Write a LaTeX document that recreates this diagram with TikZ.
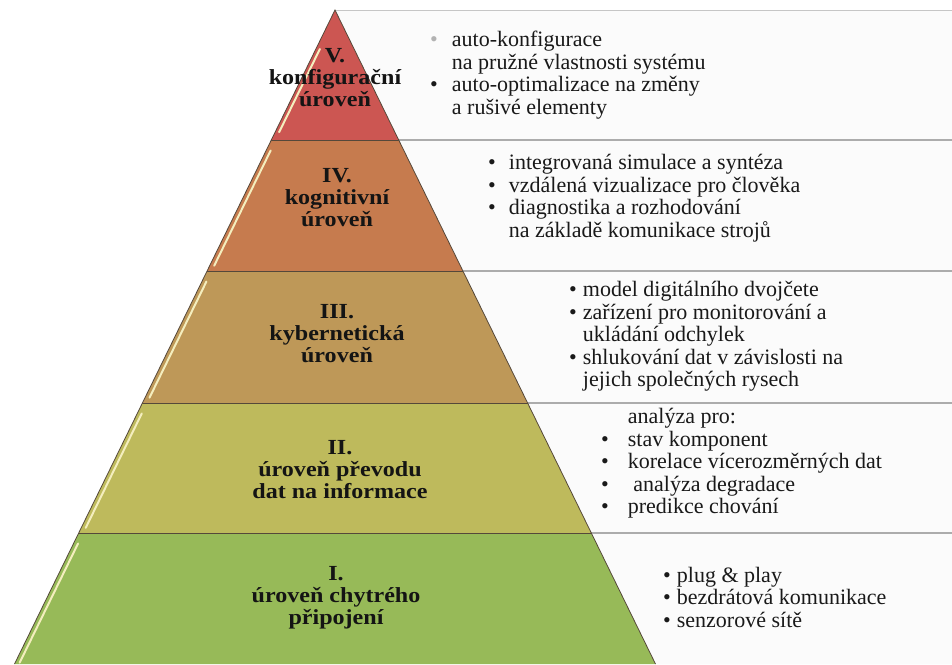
\documentclass[tikz,border=0pt]{standalone}
\usepackage{fontspec}
\setmainfont{Liberation Serif}
\newfontfamily\lblfont[FakeStretch=1.12]{Liberation Serif}
\usepackage{tikz}
\usetikzlibrary{positioning, calc}

\definecolor{lvlV}{RGB}{204,86,82}
\definecolor{lvlIV}{RGB}{198,123,78}
\definecolor{lvlIII}{RGB}{190,152,88}
\definecolor{lvlII}{RGB}{190,186,92}
\definecolor{lvlI}{RGB}{151,186,88}
\definecolor{rim}{RGB}{85,72,58}
\definecolor{glintc}{RGB}{244,238,190}

\tikzset{
  lbl/.style={align=center, text=black!92, inner sep=0pt,
    font=\lblfont\bfseries\fontsize{21.5}{22}\selectfont},
  items/.style={anchor=west, inner sep=0pt, text=black!90,
    font=\fontsize{22}{22.5}\selectfont},
  sepline/.style={draw=gray!65, line width=1.6pt},
  glint/.style={draw=glintc, line width=2pt, line cap=round},
}
\newcommand{\bl}{\textbullet}

\begin{document}
\begin{tikzpicture}[x=1pt,y=-1pt]
\useasboundingbox (0,0) rectangle (952,664);
% pyramid corners
\coordinate (top) at (335,10);
\coordinate (l1) at (271.3,140); \coordinate (r1) at (398.7,140);
\coordinate (l2) at (207.1,271); \coordinate (r2) at (462.9,271);
\coordinate (l3) at (142.4,403); \coordinate (r3) at (527.6,403);
\coordinate (l4) at (78.7,533);  \coordinate (r4) at (591.3,533);
\coordinate (l5) at (14.5,664);  \coordinate (r5) at (655.5,664);
% right ends
\coordinate (e0) at (952,10);
\coordinate (e1) at (952,140);
\coordinate (e2) at (952,271);
\coordinate (e3) at (952,403);
\coordinate (e4) at (952,533);
\coordinate (e5) at (952,664);

% panels
\fill[gray!3] (top) -- (e0) -- (e5) -- (r5) -- cycle;
\draw[draw=gray!45, line width=0.9pt] (top) -- (e0);
\begin{scope}[every path/.style={sepline}]
  \draw (r1) -- (e1);
  \draw (r2) -- (e2);
  \draw (r3) -- (e3);
  \draw (r4) -- (e4);
\end{scope}

% levels
\fill[lvlV]   (top) -- (r1) -- (l1) -- cycle;
\fill[lvlIV]  (l1) -- (r1) -- (r2) -- (l2) -- cycle;
\fill[lvlIII] (l2) -- (r2) -- (r3) -- (l3) -- cycle;
\fill[lvlII]  (l3) -- (r3) -- (r4) -- (l4) -- cycle;
\fill[lvlI]   (l4) -- (r4) -- (r5) -- (l5) -- cycle;
%\draw[glint] (top) -- (l1);
\draw[glint] ($(top)!0.3!(l1)+(4,0)$) -- ($(top)!0.94!(l1)+(4,0)$);
\draw[glint] ($(l1)!0.08!(l2)+(4.5,0)$) -- ($(l1)!0.96!(l2)+(4.5,0)$);
\draw[glint] ($(l2)!0.08!(l3)+(4.5,0)$) -- ($(l2)!0.96!(l3)+(4.5,0)$);
\draw[glint] ($(l3)!0.08!(l4)+(4.5,0)$) -- ($(l3)!0.96!(l4)+(4.5,0)$);
\draw[glint] ($(l4)!0.08!(l5)+(4.5,0)$) -- ($(l4)!0.99!(l5)+(4.5,0)$);
\begin{scope}[every path/.style={draw=rim, line width=0.8pt}]
  \draw (l5) -- (top) -- (r5);
  \draw (l1) -- (r1);
  \draw (l2) -- (r2);
  \draw (l3) -- (r3);
  \draw (l4) -- (r4);
\end{scope}

% level names
\node[lbl] (n5) at (335,78) {V.\\konfigurační\\úroveň};
\node[lbl] (n4) at (337,198) {IV.\\kognitivní\\úroveň};
\node[lbl] (n3) at (337,334) {III.\\kybernetická\\úroveň};
\node[lbl] (n2) at (340,470) {II.\\úroveň převodu\\dat na informace};
\node[lbl] (n1) at (336,598) {I.\\úroveň chytrého\\připojení};

% descriptions
\node[items] (t5) at (430,76) {\begin{tabular}{@{}l@{\hspace{14pt}}l@{}}
  \textcolor{gray!60}{\bl} & auto-konfigurace\\
  & na pružné vlastnosti systému\\
  \bl & auto-optimalizace na změny\\
  & a rušivé elementy
\end{tabular}};
\node[items] (t4) at (488,199) {\begin{tabular}{@{}l@{\hspace{13pt}}l@{}}
  \bl & integrovaná simulace a syntéza\\
  \bl & vzdálená vizualizace pro člověka\\
  \bl & diagnostika a rozhodování\\
  & na základě komunikace strojů
\end{tabular}};
\node[items] (t3) at (569,337) {\begin{tabular}{@{}l@{\hspace{6pt}}l@{}}
  \bl & model digitálního dvojčete\\
  \bl & zařízení pro monitorování a\\
  & ukládání odchylek\\
  \bl & shlukování dat v závislosti na\\
  & jejich společných rysech
\end{tabular}};
\node[items] (t2) at (601,464) {\begin{tabular}{@{}l@{\hspace{19pt}}l@{}}
  & analýza pro:\\
  \bl & stav komponent\\
  \bl & korelace vícerozměrných dat\\
  \bl & \ analýza degradace\\
  \bl & predikce chování
\end{tabular}};
\node[items] (t1) at (663,600) {\begin{tabular}{@{}l@{\hspace{6pt}}l@{}}
  \bl & plug \& play\\
  \bl & bezdrátová komunikace\\
  \bl & senzorové sítě
\end{tabular}};
\end{tikzpicture}
\end{document}
